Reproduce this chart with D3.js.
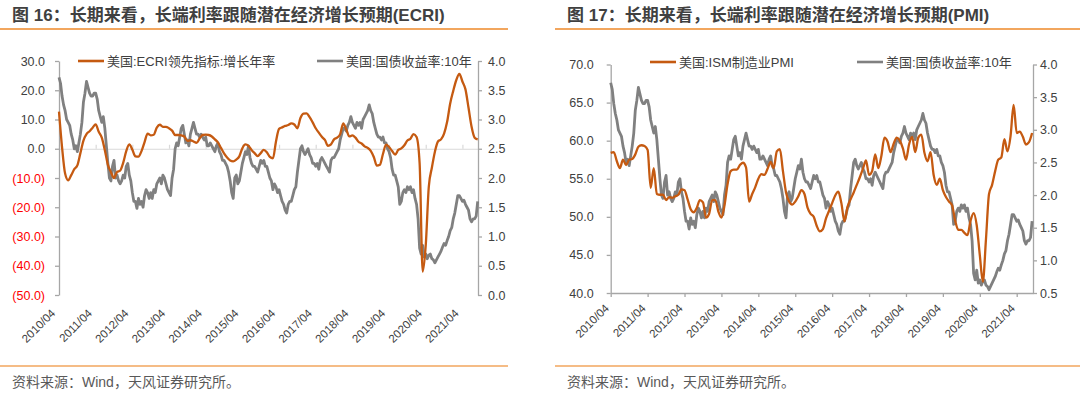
<!DOCTYPE html>
<html>
<head>
<meta charset="utf-8">
<script src="https://cdn.jsdelivr.net/npm/d3@7"></script>
<style>
    body { margin: 0; background: #fff; }
    svg { display: block; }
</style>
</head>
<body>
<svg id="chart" width="1080" height="397"></svg>
<script>
// data (months counted from 2010/04)
var xLabels = ['2010/04', '2011/04', '2012/04', '2013/04', '2014/04', '2015/04',
    '2016/04', '2017/04', '2018/04', '2019/04', '2020/04', '2021/04'];
var tickMonths = [0, 12, 24, 36, 48, 60, 72, 84, 96, 108, 120, 132];

// ECRI leading index, yoy growth (%), monthly
var ecri = [
    12.7, 0.5, -8.5, -10.8, -9.0, -7.0, -5.7, -1.5, 2.8, 5.0, 6.0, 7.2,
    8.3, 5.8, 3.8, -0.5, -5.5, -8.0, -10.0, -7.9, -7.5, -4.8, -0.8, 1.5,
    -0.3, -2.6, -2.7, -0.8, 2.3, 5.2, 4.6, 4.8, 7.2, 8.2, 7.5, 7.5,
    7.0, 6.2, 4.7, 4.7, 4.6, 4.2, 2.7, 2.9, 2.5, 2.0, 3.5, 4.7,
    4.8, 4.7, 4.2, 3.2, 2.2, 0.3, -1.6, -3.0, -4.0, -4.3, -3.7, -2.6,
    0.2, 1.5, 1.0, -0.4, -1.5, -2.5, -1.5, -0.4, -1.2, -2.8, -3.3, 2.5,
    6.8, 7.3, 7.8, 8.1, 8.7, 8.3, 7.0, 10.5, 12.0, 12.1, 10.8, 9.0,
    7.0, 5.5, 4.1, 3.0, 1.0, 1.5, 3.2, 3.8, 5.0, 8.7, 6.6, 4.2,
    4.6, 3.8, 2.4, 1.8, 0.8, 0.3, -0.7, -2.8, -5.8, -5.5, -1.8, 1.4,
    0.6, -0.8, -2.0, -0.4, 0.1, 1.2, 2.8, 3.4, 5.0, 4.0, -5.0, -42.0,
    -33.0, -13.0, -6.5, -1.0, 2.5, 3.2, 5.2, 9.2, 15.5, 19.8, 23.5, 25.6,
    23.0, 20.3, 14.0, 7.5, 3.8, 3.2
];

// ISM manufacturing PMI, monthly
var pmi = [
    58.4, 58.5, 57.3, 56.4, 57.5, 56.8, 57.5, 57.6, 58.2, 59.2, 59.4, 59.3,
    58.8, 53.8, 56.4, 53.0, 52.9, 52.9, 52.2, 52.6, 52.5, 52.7, 52.9, 53.6,
    53.5, 52.3, 51.0, 50.6, 51.2, 52.2, 51.9, 49.9, 50.4, 52.2, 52.2, 50.7,
    49.9, 51.5, 54.3, 56.0, 56.2, 56.2, 56.8, 57.1, 56.5, 52.0, 53.0, 53.9,
    55.0, 55.6, 55.5, 56.3, 57.2, 56.4, 58.6, 58.9, 56.0, 53.2, 52.0, 51.6,
    52.0, 52.7, 53.5, 53.0, 51.2, 50.4, 50.0, 48.8, 48.1, 48.4, 49.8, 50.8,
    51.8, 52.8, 53.3, 51.8, 49.4, 51.3, 52.3, 53.2, 54.2, 55.2, 56.3, 57.4,
    55.5, 56.0, 58.2, 56.4, 58.0, 60.4, 59.9, 58.5, 59.6, 60.4, 60.0, 59.0,
    57.5, 59.5, 60.5, 58.5, 60.4, 60.8, 58.4, 57.3, 58.5, 55.5, 54.2, 55.0,
    53.5, 52.6, 52.0, 51.5, 49.5, 48.3, 48.3, 47.9, 47.6, 49.5, 50.5, 48.9,
    45.0, 41.5, 47.0, 53.0, 54.2, 56.0, 57.5, 57.8, 60.2, 58.6, 60.6, 64.7,
    61.0, 61.2, 60.5, 59.5, 59.8, 61.0
];

// US 10y treasury yield (%), twice a month
var ust10y = [
    3.72, 3.62, 3.40, 3.25, 3.15, 3.00, 2.95, 2.90, 2.75, 2.65, 2.50, 2.55,
    2.45, 2.60, 2.75, 2.95, 3.30, 3.45, 3.65, 3.55, 3.45, 3.40, 3.40, 3.45,
    3.45, 3.35, 3.15, 3.05, 2.95, 3.05, 2.85, 2.55, 2.25, 2.00, 1.95, 2.20,
    2.30, 2.00, 2.05, 1.95, 1.90, 1.95, 2.05, 2.00, 2.20, 2.25, 2.05, 1.95,
    1.75, 1.60, 1.60, 1.48, 1.65, 1.55, 1.60, 1.50, 1.70, 1.80, 1.75, 1.65,
    1.75, 1.65, 1.80, 1.75, 1.90, 1.95, 2.00, 1.90, 2.05, 2.00, 1.90, 1.80,
    1.75, 1.70, 2.00, 2.15, 2.50, 2.60, 2.55, 2.70, 2.85, 2.90, 2.75, 2.60,
    2.65, 2.55, 2.75, 2.85, 2.95, 2.85, 2.75, 2.75, 2.70, 2.75, 2.70, 2.65,
    2.70, 2.55, 2.55, 2.60, 2.55, 2.50, 2.45, 2.55, 2.60, 2.45, 2.40, 2.30,
    2.30, 2.25, 2.20, 2.10, 1.95, 1.75, 1.65, 2.00, 2.05, 1.90, 1.95, 2.10,
    2.25, 2.35, 2.45, 2.40, 2.55, 2.35, 2.25, 2.20, 2.20, 2.15, 2.10, 2.20,
    2.30, 2.25, 2.30, 2.20, 2.20, 2.10, 2.00, 1.95, 1.80, 1.90, 1.85, 1.75,
    1.80, 1.70, 1.60, 1.55, 1.45, 1.40, 1.55, 1.60, 1.60, 1.70, 1.80, 1.85,
    2.10, 2.30, 2.50, 2.55, 2.45, 2.40, 2.45, 2.50, 2.40, 2.35, 2.25, 2.25,
    2.20, 2.25, 2.15, 2.30, 2.35, 2.30, 2.25, 2.20, 2.15, 2.10, 2.30, 2.35,
    2.35, 2.40, 2.45, 2.50, 2.65, 2.75, 2.85, 2.85, 2.80, 2.90, 2.95, 3.05,
    2.95, 2.90, 2.85, 2.95, 2.90, 2.95, 2.85, 3.00, 3.05, 3.10, 3.15, 3.25,
    3.15, 3.10, 2.95, 2.85, 2.75, 2.70, 2.70, 2.65, 2.70, 2.60, 2.60, 2.50,
    2.45, 2.35, 2.15, 2.05, 2.05, 1.95, 1.85, 1.55, 1.60, 1.75, 1.80, 1.75,
    1.85, 1.80, 1.85, 1.75, 1.80, 1.65, 1.55, 1.30, 0.80, 0.70, 0.85, 0.65,
    0.70, 0.62, 0.68, 0.70, 0.62, 0.60, 0.55, 0.60, 0.65, 0.70, 0.75, 0.82,
    0.88, 0.85, 0.93, 1.00, 1.10, 1.15, 1.30, 1.40, 1.55, 1.70, 1.70, 1.65,
    1.60, 1.62, 1.55, 1.50, 1.45, 1.30, 1.25, 1.30, 1.30, 1.35, 1.60
];

var FONT = '"Liberation Sans", "Noto Sans CJK SC", sans-serif';
var ORANGE = '#c55a11';
var GREY = '#808080';
var ACCENT = '#f2a65e';
var TEXT = '#404040';

var svg = d3.select('#chart');

window.onload = function () {
    drawPanel({
        ox: 0, lineFrom: 0, lineTo: 508,
        title: '图 16：长期来看，长端利率跟随潜在经济增长预期(ECRI)',
        left: 59, right: 478, top: 61, bottom: 295, xEnd: 137.1,
        leftDomain: [-50, 30], leftTicks: d3.range(-50, 31, 10), leftPad: 10,
        rightDomain: [0, 4], rightTicks: d3.range(0, 4.01, 0.5), rightPad: 6,
        series: ecri, seriesName: '美国:ECRI领先指标:增长年率',
        axisAtZero: true, lblDx: -3, lblY: 314,
        leg1: 78, leg2: 317
    });
    drawPanel({
        ox: 555, lineFrom: 555, lineTo: 1080,
        title: '图 17：长期来看，长端利率跟随潜在经济增长预期(PMI)',
        left: 610.7, right: 1033, top: 64.5, bottom: 293, xEnd: 137.3,
        leftDomain: [40, 70], leftTicks: d3.range(40, 71, 5), leftPad: 13,
        rightDomain: [0.5, 4], rightTicks: d3.range(0.5, 4.01, 0.5), rightPad: 3,
        series: pmi, seriesName: '美国:ISM制造业PMI',
        axisAtZero: false, lblDx: -1, lblY: 309,
        leg1: 650, leg2: 857
    });
};

function fmtLeft(v) {
    return v < 0 ? '(' + Math.abs(v).toFixed(1) + ')' : v.toFixed(1);
}

function drawPanel(c) {
    var g = svg.append('g');
    var x = d3.scaleLinear().domain([0, c.xEnd]).range([c.left, c.right]);
    var yL = d3.scaleLinear().domain(c.leftDomain).range([c.bottom, c.top]);
    var yR = d3.scaleLinear().domain(c.rightDomain).range([c.bottom, c.top]);

    // title + orange rules
    g.append('text')
        .attr('x', c.ox + 12).attr('y', 21)
        .attr('font-family', FONT).attr('font-size', 17).attr('font-weight', 'bold')
        .attr('fill', TEXT)
        .text(c.title);
    g.append('line')
        .attr('x1', c.lineFrom).attr('x2', c.lineTo).attr('y1', 29).attr('y2', 29)
        .attr('stroke', ACCENT).attr('stroke-width', 2);
    g.append('line')
        .attr('x1', c.lineFrom).attr('x2', c.lineTo).attr('y1', 366).attr('y2', 366)
        .attr('stroke', ACCENT).attr('stroke-width', 1.6);
    g.append('text')
        .attr('x', c.ox + 12).attr('y', 387)
        .attr('font-family', FONT).attr('font-size', 14)
        .attr('fill', '#595959')
        .text('资料来源：Wind，天风证券研究所。');

    // x axis
    var xAxis = g.append('g');
    if (c.axisAtZero) {
        xAxis.attr('transform', 'translate(0,' + yL(0) + ')')
            .call(d3.axisBottom(x).tickValues(tickMonths).tickSize(-4).tickSizeOuter(0).tickFormat(''));
        xAxis.selectAll('path, line').attr('stroke', '#d9d9d9').attr('stroke-width', 1.2);
    } else {
        xAxis.attr('transform', 'translate(0,' + c.bottom + ')')
            .call(d3.axisBottom(x).tickValues(tickMonths).tickSize(4).tickSizeOuter(0).tickFormat(''));
        xAxis.selectAll('path, line').attr('stroke', '#a6a6a6').attr('stroke-width', 1.3);
    }

    g.selectAll('.xl')
        .data(tickMonths)
        .enter().append('text')
        .attr('transform', function (d) {
            return 'translate(' + (x(d) + c.lblDx) + ',' + c.lblY + ') rotate(-45)';
        })
        .attr('text-anchor', 'end')
        .attr('font-family', FONT).attr('font-size', 11.5)
        .attr('fill', TEXT)
        .text(function (d, i) { return xLabels[i]; });

    // y axes
    var axL = g.append('g')
        .attr('transform', 'translate(' + c.left + ',0)')
        .call(d3.axisLeft(yL).tickValues(c.leftTicks).tickSize(4).tickSizeOuter(0)
            .tickPadding(c.leftPad).tickFormat(fmtLeft));
    var axR = g.append('g')
        .attr('transform', 'translate(' + c.right + ',0)')
        .call(d3.axisRight(yR).tickValues(c.rightTicks).tickSize(4).tickSizeOuter(0)
            .tickPadding(c.rightPad).tickFormat(d3.format('.1f')));
    [axL, axR].forEach(function (ax) {
        ax.attr('font-family', FONT).attr('font-size', 12.5);
        ax.selectAll('path, line').attr('stroke', '#a6a6a6').attr('stroke-width', 1.3);
        ax.selectAll('text').attr('fill', function (d) { return d < 0 ? '#ff0000' : TEXT; });
    });

    // lines
    var grey = d3.line()
        .x(function (d, i) { return x(i / 2); })
        .y(function (d) { return yR(d); });
    var main = d3.line()
        .curve(d3.curveMonotoneX)
        .x(function (d, i) { return x(i); })
        .y(function (d) { return yL(d); });

    g.append('path').datum(ust10y)
        .attr('d', grey)
        .attr('fill', 'none').attr('stroke', GREY).attr('stroke-width', 2.8)
        .attr('stroke-linejoin', 'round');
    g.append('path').datum(c.series)
        .attr('d', main)
        .attr('fill', 'none').attr('stroke', ORANGE).attr('stroke-width', 2.3)
        .attr('stroke-linejoin', 'round');

    // legend
    var ly = c.axisAtZero ? 61 : 62;
    var leg = [[c.leg1, ORANGE, c.seriesName], [c.leg2, GREY, '美国:国债收益率:10年']];
    leg.forEach(function (l) {
        g.append('line')
            .attr('x1', l[0]).attr('x2', l[0] + 26).attr('y1', ly).attr('y2', ly)
            .attr('stroke', l[1]).attr('stroke-width', 2.6);
        g.append('text')
            .attr('x', l[0] + 29).attr('y', ly + 5)
            .attr('font-family', FONT).attr('font-size', 13)
            .attr('fill', TEXT)
            .text(l[2]);
    });
}
</script>
</body>
</html>
